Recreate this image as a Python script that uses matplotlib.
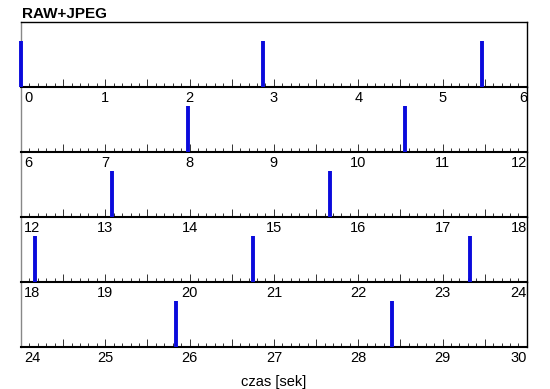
import numpy as np
import matplotlib
matplotlib.use("Agg")
import matplotlib.pyplot as plt
from matplotlib.ticker import MultipleLocator
from matplotlib.transforms import ScaledTranslation

plt.rcParams['font.family'] = ['Liberation Sans', 'DejaVu Sans']

# shot times [s]
shot_times = [0.0, 2.87, 5.47, 7.98, 10.55, 13.08, 15.66,
              18.17, 20.75, 23.32, 25.84, 28.40]
row_starts = [0, 6, 12, 18, 24]
row_len = 6

fig, axes = plt.subplots(5, 1, figsize=(5.5, 3.89), dpi=100)
fig.subplots_adjust(left=0.038, right=0.958, top=0.943, bottom=0.108, hspace=0)

times = np.array(shot_times)
for i, (ax, lo) in enumerate(zip(axes, row_starts)):
    ax.patch.set_visible(False)
    ax.set_zorder(10 - i)
    hi = lo + row_len
    sel = times[(times >= lo) & (times < hi)]
    ax.vlines(sel, 0, 1, color='#0a0adc', lw=2.8, clip_on=False, zorder=3)
    ax.set_xlim(lo, hi)
    ax.set_ylim(0, 1.42)
    ax.set_yticks([])

    ticks = np.arange(lo, hi + 0.01, 0.5)
    labels = [str(int(t)) if t == int(t) else '' for t in ticks]
    ax.set_xticks(ticks, labels)
    ax.xaxis.set_minor_locator(MultipleLocator(0.1))
    ax.tick_params(axis='x', which='major', direction='in', length=6, width=0.7,
                   labelsize=10.5, pad=3, color='#333333')
    ax.tick_params(axis='x', which='minor', direction='in', length=3, width=0.7,
                   color='#333333')
    tl = ax.get_xticklabels()
    tl[0].set_ha('left')
    tl[0].set_transform(tl[0].get_transform() + ScaledTranslation(2.5 / 72, 0, fig.dpi_scale_trans))
    tl[-1].set_ha('right')

    ax.spines['bottom'].set_linewidth(1.5)
    ax.spines['bottom'].set_color('black')
    ax.spines['left'].set_color('#888888')
    ax.spines['left'].set_linewidth(1.0)
    ax.spines['right'].set_color('black')
    ax.spines['right'].set_linewidth(1.0)
    if i == 0:
        ax.spines['top'].set_linewidth(1.0)
    else:
        ax.spines['top'].set_visible(False)

fig.text(0.04, 0.965, 'RAW+JPEG', fontsize=11, fontweight='bold', ha='left', va='center')
axes[-1].set_xlabel('czas [sek]', fontsize=10.5, labelpad=7)

fig.savefig('out.png', dpi=100)
